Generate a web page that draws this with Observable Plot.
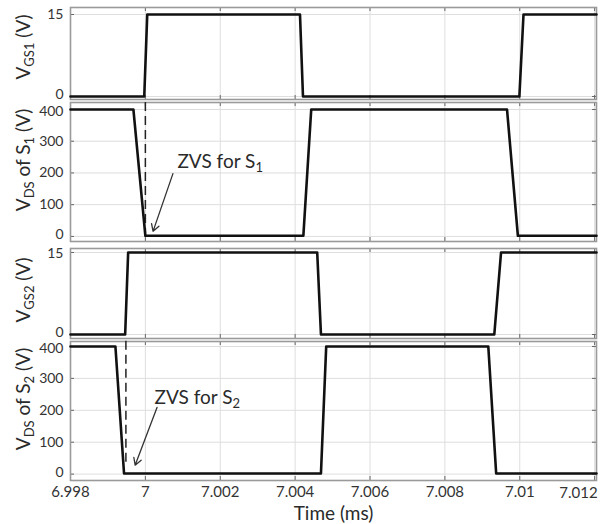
<!DOCTYPE html>
<html><head><meta charset="utf-8">
<script src="https://cdn.jsdelivr.net/npm/d3@7"></script>
<script src="https://cdn.jsdelivr.net/npm/@observablehq/plot@0.6"></script>
<style>
body{margin:0;background:#fff;}
#chart svg{display:block;}
</style></head><body><div id="chart"></div>
<script>
// ---- data ----
const xTicks = [6.998, 7.0, 7.002, 7.004, 7.006, 7.008, 7.01, 7.012];
const xTickLabels = ["6.998", "7", "7.002", "7.004", "7.006", "7.008", "7.01", "7.012"];
const xDomain = [6.998, 7.01205];

const vgs1Time = [6.998, 6.99997, 7.00005, 7.00413, 7.00421, 7.00999, 7.0101, 7.01205];
const vgs1Volt = [0, 0, 15, 15, 0, 0, 15, 15];
const vds1Time = [6.998, 6.99968, 7.0, 7.00422, 7.00443, 7.00966, 7.00995, 7.01205];
const vds1Volt = [400, 400, 2, 2, 400, 400, 2, 2];
const vgs2Time = [6.998, 6.99946, 6.99954, 7.00459, 7.00469, 7.00932, 7.0095, 7.01205];
const vgs2Volt = [0, 0, 15, 15, 0, 0, 15, 15];
const vds2Time = [6.998, 6.9992, 6.99943, 7.00469, 7.00483, 7.00916, 7.00937, 7.01205];
const vds2Volt = [400, 400, 2, 2, 400, 400, 2, 2];

const vgsTicks = [0, 15];
const vdsTicks = [0, 100, 200, 300, 400];

// annotations (data units)
const zvs1Dash = [7.0, 422, 8];          // x, y1, y2
const zvs1Arrow = [7.000736, 198, 7.000205, 16]; // x1,y1,x2,y2
const zvs1Text = [7.000869, 214, "ZVS for S", "1"];
const zvs2Dash = [6.99948, 416, 35];
const zvs2Arrow = [7.000311, 209, 6.999726, 28];
const zvs2Text = [7.000258, 219, "ZVS for S", "2"];

const W = 606, ML = 70, MR = 10;
const FONT = "Lato, 'Open Sans', sans-serif";

function addYLabel(svg, cx, cy, parts) {
  const t = d3.select(svg).append("text")
    .attr("transform", `translate(${cx},${cy}) rotate(-90)`)
    .attr("text-anchor", "middle")
    .attr("fill", "#2a2a2a")
    .style("font-family", FONT)
    .style("font-size", "19px");
  let shifted = false;
  for (const [s, sub] of parts) {
    const ts = t.append("tspan").text(s);
    if (sub && !shifted) { ts.attr("dy", 4).style("font-size", "13px"); shifted = true; }
    else if (!sub && shifted) { ts.attr("dy", -4); shifted = false; }
  }
}

function addNote(p, spec) {
  const sx = p.scale("x"), sy = p.scale("y");
  const t = d3.select(p).append("text")
    .attr("x", sx.apply(spec[0])).attr("y", sy.apply(spec[1]))
    .attr("text-anchor", "start")
    .attr("fill", "#2a2a2a")
    .style("font-family", FONT).style("font-size", "19px");
  t.append("tspan").text(spec[2]);
  t.append("tspan").text(spec[3]).attr("dy", 4).style("font-size", "13px");
}

function makePanel(cfg) {
  const data = cfg.time.map((t, i) => ({t, v: cfg.volt[i]}));
  const innerH = cfg.height - cfg.mt - cfg.mb;
  const innerW = W - ML - MR;
  const yMax = cfg.yTicks[cfg.yTicks.length - 1];
  const axisOpts = {anchor: "left", tickSize: 0, tickPadding: 7, fontSize: 14, label: null, color: "#333"};
  const marks = [
    Plot.gridX(xTicks, {stroke: "#dedede", strokeOpacity: 1}),
    Plot.gridY(cfg.yTicks, {stroke: "#dedede", strokeOpacity: 1}),
    Plot.tickX(xTicks, {insetBottom: innerH - 4, stroke: "#666"}),
    Plot.tickX(xTicks, {insetTop: innerH - 4, stroke: "#666"}),
    Plot.tickY(cfg.yTicks, {insetRight: innerW - 4, stroke: "#666"}),
    Plot.tickY(cfg.yTicks, {insetLeft: innerW - 4, stroke: "#666"}),
    Plot.frame({stroke: "#9a9a9a", strokeWidth: 1.6}),
    // bottom tick label nudged up, top tick label nudged down so stacked panels do not collide
    Plot.axisY([0], {...axisOpts, dy: -2}),
    Plot.axisY(cfg.yTicks.filter(d => d !== 0 && d !== yMax), axisOpts),
    Plot.axisY([yMax], {...axisOpts, dy: cfg.topNudge})
  ];
  if (cfg.dash) {
    marks.push(Plot.ruleX([cfg.dash], {x: d => d[0], y1: d => d[1], y2: d => d[2], stroke: "#222", strokeWidth: 1.5, strokeDasharray: "9,5"}));
  }
  if (cfg.arrow) {
    marks.push(Plot.arrow([cfg.arrow], {x1: d => d[0], y1: d => d[1], x2: d => d[2], y2: d => d[3], stroke: "#333", strokeWidth: 1.3, headLength: 9}));
  }
  marks.push(Plot.line(data, {x: "t", y: "v", stroke: "#111", strokeWidth: 2.6, strokeLinejoin: "round"}));
  if (cfg.showX) {
    marks.push(Plot.axisX(xTicks, {anchor: "bottom", tickSize: 0, tickPadding: 6, fontSize: 15, label: null, color: "#333",
      tickFormat: (d, i) => i === xTicks.length - 1 ? "" : xTickLabels[i]}));
    marks.push(Plot.text([xTickLabels[xTickLabels.length - 1]], {x: xTicks[xTicks.length - 1], frameAnchor: "bottom", dy: 13, dx: 3, textAnchor: "end", lineAnchor: "middle", fontSize: 15, fill: "#333", text: d => d}));
    marks.push(Plot.text(["Time (ms)"], {frameAnchor: "bottom", dy: 33, lineAnchor: "middle", fontSize: 19, fill: "#2a2a2a", text: d => d}));
  }
  const p = Plot.plot({
    width: W, height: cfg.height,
    marginLeft: ML, marginRight: MR, marginTop: cfg.mt, marginBottom: cfg.mb,
    style: {fontFamily: FONT, fontSize: "15px", color: "#333", background: "white", overflow: "visible"},
    x: {domain: xDomain, axis: cfg.showX ? undefined : null, label: null},
    y: {domain: cfg.yDomain, label: null},
    marks
  });
  addYLabel(p, 30, cfg.labelY, cfg.label);
  if (cfg.note) addNote(p, cfg.note);
  return p;
}

const chart = document.getElementById("chart");
chart.append(makePanel({time: vgs1Time, volt: vgs1Volt, yTicks: vgsTicks, yDomain: [-0.55, 16.28],
  height: 100, mt: 7, mb: 1, labelY: 47, topNudge: 0,
  label: [["V", false], ["GS1", true], [" (V)", false]]}));
chart.append(makePanel({time: vds1Time, volt: vds1Volt, yTicks: vdsTicks, yDomain: [-16, 422],
  height: 144, mt: 2, mb: 3, labelY: 60, topNudge: 2,
  label: [["V", false], ["DS", true], [" of S", false], ["1", true], [" (V)", false]],
  dash: zvs1Dash, arrow: zvs1Arrow, note: zvs1Text}));
chart.append(makePanel({time: vgs2Time, volt: vgs2Volt, yTicks: vgsTicks, yDomain: [-0.73, 15.73],
  height: 95, mt: 4, mb: 1, labelY: 46, topNudge: 1,
  label: [["V", false], ["GS2", true], [" (V)", false]]}));
chart.append(makePanel({time: vds2Time, volt: vds2Volt, yTicks: vdsTicks, yDomain: [-20, 415.6],
  height: 185, mt: 2, mb: 44, labelY: 60, showX: true, topNudge: 2,
  label: [["V", false], ["DS", true], [" of S", false], ["2", true], [" (V)", false]],
  dash: zvs2Dash, arrow: zvs2Arrow, note: zvs2Text}));
</script></body></html>
